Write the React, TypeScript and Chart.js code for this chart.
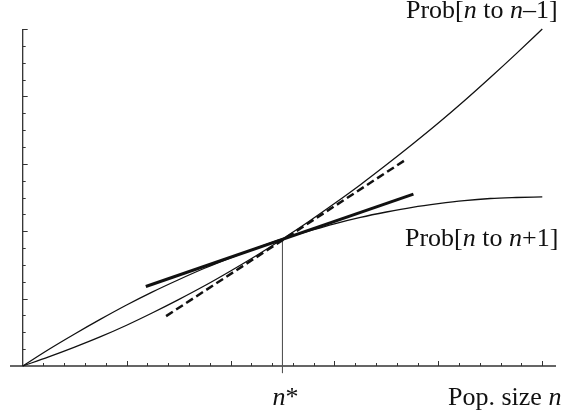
import React, { useEffect, useRef } from "react";
import { Chart, registerables } from "chart.js";

Chart.register(...registerables);

// Population size (scaled 0..1)
const popSize = [0, 0.05, 0.1, 0.15, 0.2, 0.25, 0.3, 0.35, 0.4, 0.45, 0.5, 0.55, 0.6, 0.65, 0.7, 0.75, 0.8, 0.85, 0.9, 0.95, 1.0];
// Prob[n to n-1] (convex curve)
const probDown = [0, 0.027, 0.056, 0.087, 0.121, 0.158, 0.197, 0.238, 0.282, 0.328, 0.377, 0.428, 0.482, 0.538, 0.597, 0.658, 0.721, 0.787, 0.856, 0.927, 1.0];
// Prob[n to n+1] (concave curve)
const probUp = [0, 0.049, 0.095, 0.139, 0.181, 0.22, 0.256, 0.29, 0.321, 0.35, 0.377, 0.4, 0.422, 0.441, 0.457, 0.471, 0.482, 0.491, 0.497, 0.5, 0.502];
// Tangent at n* to Prob[n to n+1] (solid) and to Prob[n to n-1] (dashed)
const tangentUpX = [0.237, 0.752];
const tangentUpY = [0.236, 0.51];
const tangentDownX = [0.276, 0.734];
const tangentDownY = [0.148, 0.609];
// Equilibrium n*
const nStar = 0.5;
const pStar = 0.377;

const xTickStep = 0.04;
const xMajorStep = 0.2;
const yTickStep = 0.05;
const yMajorStep = 0.2;

const FONT = "'Liberation Serif', 'Times New Roman', serif";

const pts = (xa: number[], ya: number[]) => xa.map((x, i) => ({ x, y: ya[i] }));

const axesPlugin = {
  id: "customAxes",
  beforeDatasetsDraw(chart: any) {
    const { ctx, chartArea, scales } = chart;
    const xs = scales.x;
    const ys = scales.y;
    const x0 = xs.getPixelForValue(0);
    const y0 = ys.getPixelForValue(0);
    const yTop = ys.getPixelForValue(1);
    ctx.save();
    ctx.strokeStyle = "#333";
    ctx.lineWidth = 1.3;
    ctx.beginPath();
    ctx.moveTo(chartArea.left, y0);
    ctx.lineTo(chartArea.right, y0);
    ctx.moveTo(x0, y0);
    ctx.lineTo(x0, yTop);
    ctx.stroke();
    ctx.lineWidth = 1;
    ctx.beginPath();
    for (let i = 1; i * xTickStep <= 1.0001; i++) {
      const v = i * xTickStep;
      const major = Math.abs(v / xMajorStep - Math.round(v / xMajorStep)) < 1e-6;
      const px = Math.round(xs.getPixelForValue(v)) + 0.5;
      ctx.moveTo(px, y0);
      ctx.lineTo(px, y0 - (major ? 5 : 3));
    }
    for (let i = 1; i * yTickStep <= 1.0001; i++) {
      const v = i * yTickStep;
      const major = Math.abs(v / yMajorStep - Math.round(v / yMajorStep)) < 1e-6;
      const py = Math.round(ys.getPixelForValue(v)) + 0.5;
      ctx.moveTo(x0, py);
      ctx.lineTo(x0 + (major ? 5 : 3), py);
    }
    ctx.stroke();
    ctx.restore();
  },
  afterDraw(chart: any) {
    const { ctx, scales } = chart;
    const xs = scales.x;
    const ys = scales.y;
    const drawRuns = (runs: [string, boolean][], x: number, y: number) => {
      let cx = x;
      for (const [t, it] of runs) {
        ctx.font = (it ? "italic " : "") + "26px " + FONT;
        ctx.fillText(t, cx, y);
        cx += ctx.measureText(t).width;
      }
    };
    ctx.save();
    ctx.fillStyle = "#111";
    ctx.textBaseline = "alphabetic";
    ctx.textAlign = "left";
    const base = ys.getPixelForValue(0) + 39;
    drawRuns([["Prob[", false], ["n", true], [" to ", false], ["n", true], ["\u20131]", false]], 406, 18);
    drawRuns([["Prob[", false], ["n", true], [" to ", false], ["n", true], ["+1]", false]], 405, 246);
    drawRuns([["n", true], ["*", false]], xs.getPixelForValue(nStar) - 10, base);
    drawRuns([["Pop. size ", false], ["n", true]], 448, base);
    ctx.restore();
  },
};

export default function App() {
  const ref = useRef<HTMLCanvasElement>(null);
  useEffect(() => {
    if (!ref.current) return;
    const chart = new Chart(ref.current, {
      type: "line",
      data: {
        datasets: [
          {
            data: pts(popSize, probUp),
            borderColor: "#111",
            borderWidth: 1.3,
            pointRadius: 0,
            cubicInterpolationMode: "monotone",
          },
          {
            data: pts(popSize, probDown),
            borderColor: "#111",
            borderWidth: 1.3,
            pointRadius: 0,
            cubicInterpolationMode: "monotone",
          },
          {
            data: pts(tangentUpX, tangentUpY),
            borderColor: "#111",
            borderWidth: 3,
            pointRadius: 0,
          },
          {
            data: pts(tangentDownX, tangentDownY),
            borderColor: "#111",
            borderWidth: 2.5,
            borderDash: [8, 4],
            pointRadius: 0,
          },
          {
            data: [
              { x: nStar, y: pStar },
              { x: nStar, y: -0.021 },
            ],
            borderColor: "#555",
            borderWidth: 1,
            pointRadius: 0,
          },
        ],
      },
      options: {
        responsive: false,
        animation: false,
        devicePixelRatio: 1,
        layout: { padding: { left: 10, right: 9, top: 29, bottom: 53 } },
        elements: { line: { fill: false } },
        datasets: { line: { clip: false } } as any,
        scales: {
          x: { type: "linear", min: -0.0244, max: 1.0264, display: false },
          y: { type: "linear", min: 0, max: 1, display: false },
        },
        plugins: { legend: { display: false }, tooltip: { enabled: false } },
      },
      plugins: [axesPlugin],
    });
    return () => chart.destroy();
  }, []);
  return (
    <div style={{ position: "absolute", left: 0, top: 0, width: 565, height: 419, background: "#fff" }}>
      <canvas ref={ref} width={565} height={419} />
    </div>
  );
}
